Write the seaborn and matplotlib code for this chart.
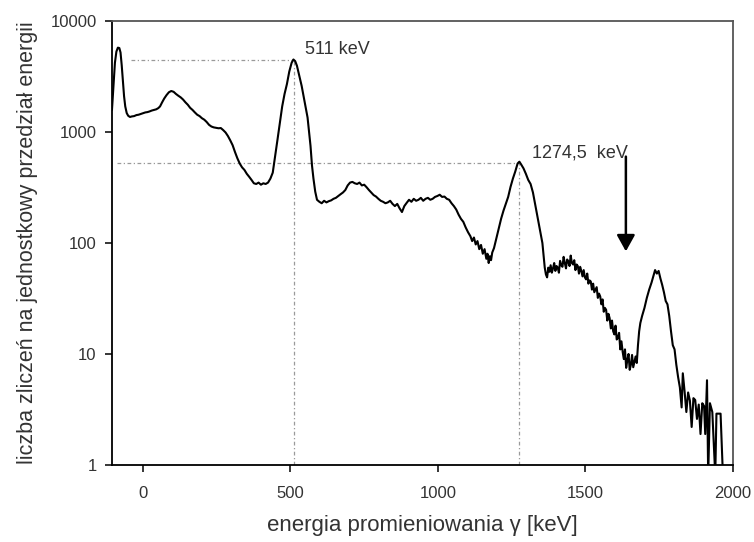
import numpy as np
import pandas as pd
import matplotlib
matplotlib.use("Agg")
import matplotlib.pyplot as plt
import seaborn as sns

# ---- data ----
energy_kev = [
    -105, -100, -95, -90, -85, -80, -76, -72, -68, -64, -60, -55, -50, -44, -38, -30, -22, -15, -8,
    0, 8, 15, 22, 30, 38, 45, 52, 58, 65, 72, 80, 88, 96, 104, 112, 120, 128, 136, 144, 152, 160,
    168, 176, 184, 192, 200, 208, 216, 224, 232, 240, 248, 256, 264, 272, 280, 288, 296, 304, 312,
    320, 328, 336, 344, 352, 360, 368, 376, 384, 392, 400, 408, 416, 424, 432, 440, 448, 456, 464,
    472, 480, 488, 496, 504, 510, 516, 522, 530, 538, 546, 552, 558, 563, 568, 573, 578, 584, 590,
    598, 606, 614, 622, 630, 638, 646, 654, 662, 670, 678, 686, 694, 702, 710, 718, 726, 734, 742,
    750, 758, 766, 774, 782, 790, 798, 806, 814, 822, 830, 838, 846, 854, 862, 870, 878, 886, 894,
    902, 910, 918, 926, 934, 942, 950, 958, 966, 974, 982, 990, 998, 1006, 1014, 1022, 1030, 1038,
    1046, 1054, 1062, 1070, 1078, 1086, 1094, 1102, 1110, 1116, 1122, 1128, 1134, 1140, 1146, 1152,
    1158, 1164, 1168, 1172, 1176, 1180, 1184, 1190, 1198, 1206, 1214, 1222, 1230, 1238, 1246, 1254,
    1262, 1270, 1276, 1282, 1290, 1298, 1306, 1314, 1322, 1330, 1338, 1346, 1354, 1358, 1362, 1366,
    1370, 1374, 1378, 1382, 1386, 1390, 1394, 1398, 1402, 1406, 1410, 1414, 1418, 1422, 1426, 1430,
    1434, 1438, 1442, 1446, 1450, 1454, 1458, 1462, 1466, 1470, 1474, 1478, 1482, 1486, 1490, 1494,
    1498, 1502, 1506, 1510, 1514, 1518, 1522, 1526, 1530, 1534, 1538, 1542, 1546, 1550, 1554, 1558,
    1562, 1566, 1570, 1574, 1578, 1582, 1586, 1590, 1594, 1598, 1602, 1606, 1610, 1614, 1618, 1622,
    1626, 1630, 1634, 1638, 1642, 1646, 1650, 1654, 1658, 1662, 1666, 1670, 1674, 1678, 1682, 1686,
    1692, 1700, 1708, 1716, 1724, 1730, 1736, 1742, 1748, 1754, 1760, 1766, 1772, 1778, 1784, 1790,
    1796, 1802, 1808, 1814, 1820, 1826, 1830, 1836, 1842, 1848, 1854, 1860, 1866, 1872, 1878, 1884,
    1890, 1896, 1902, 1906, 1912, 1916, 1922, 1930, 1940, 1944, 1952, 1958, 1966,
]
counts = [
    1580, 2600, 4200, 5300, 5750, 5700, 5200, 4000, 2900, 2100, 1700, 1480, 1400, 1365, 1380, 1390, 1420, 1430, 1450,
    1470, 1500, 1510, 1530, 1560, 1580, 1600, 1640, 1700, 1850, 2000, 2150, 2280, 2340, 2300, 2200, 2120, 2050, 1960, 1850, 1760, 1650,
    1580, 1500, 1430, 1390, 1330, 1290, 1230, 1160, 1120, 1100, 1090, 1080, 1085, 1040, 990, 920, 840, 760, 660,
    580, 520, 480, 455, 420, 395, 370, 345, 340, 350, 335, 345, 340, 350, 380, 430, 600, 850, 1200,
    1700, 2200, 2700, 3500, 4200, 4500, 4350, 3950, 3200, 2600, 2000, 1650, 1350, 1000, 750, 500, 380, 290, 245,
    235, 228, 240, 232, 238, 242, 250, 255, 265, 275, 285, 300, 330, 350, 355, 345, 340, 350, 330,
    335, 318, 300, 285, 270, 262, 250, 240, 235, 228, 232, 240, 225, 215, 225, 205, 190, 215, 230,
    245, 235, 250, 240, 245, 255, 240, 250, 255, 245, 250, 260, 265, 272, 260, 262, 250, 245,
    228, 215, 200, 180, 165, 155, 138, 125, 115, 104, 112, 97, 104, 88, 96, 80,
    88, 72, 80, 66, 76, 70, 82, 90, 110, 135, 165, 195, 225, 260, 320, 380,
    440, 520, 540, 510, 470, 420, 370, 340, 285, 220, 170, 130, 100, 78, 60, 52,
    49, 60, 55, 63, 54, 59, 66, 56, 62, 60, 54, 69, 63, 61, 75, 66,
    59, 71, 68, 62, 77, 66, 64, 70, 57, 64, 62, 53, 61, 56, 50, 57,
    49, 47, 53, 43, 46, 45, 38, 43, 36, 38, 40, 32, 35, 33, 28, 31,
    24, 26, 25, 20, 23, 21, 17, 20, 16, 15, 18, 13.5, 14, 15.5, 11, 13,
    10.5, 9, 11, 7.5, 8.8, 10, 7.2, 8, 9.8, 7.6, 8.5, 9.5, 8.3, 12, 16, 19,
    22, 26, 32, 38, 44, 50, 57, 53, 56, 48, 42, 36, 30, 28, 22, 16,
    12, 11, 8, 6.2, 5.0, 3.3, 6.7, 4.6, 3.0, 4.5, 3.8, 2.2, 4.0, 3.85, 2.6, 3.5,
    1.9, 3.6, 3.4, 1.9, 5.8, 0.8, 3.6, 3.0, 0.8, 2.9, 2.9, 2.9, 0.8,
]

peak_energies = [511, 1274.5]
peak_counts = [4450, 530]
peak_line_starts = [-40, -88]
peak_labels = ["511 keV", "1274,5  keV"]
label_pos_energy = [549, 1319]
label_pos_counts = [5500, 640]

arrow_energy = 1637
arrow_top = 600
arrow_tip = 84

x_ticks = [0, 500, 1000, 1500, 2000]
y_ticks = [1, 10, 100, 1000, 10000]
y_tick_labels = ["1", "10", "100", "1000", "10000"]

df = pd.DataFrame({"energia": energy_kev, "zliczenia": counts})

# ---- style ----
sns.set_style("ticks")
plt.rcParams["font.family"] = ["Liberation Sans", "DejaVu Sans"]

fig = plt.figure(figsize=(7.54, 5.42), dpi=100)
ax = fig.add_axes([0.1485, 0.1421, 0.9721 - 0.1485, 0.9613 - 0.1421])

sns.lineplot(data=df, x="energia", y="zliczenia", ax=ax, color="black",
             linewidth=1.5, zorder=3)

ax.set_yscale("log")
ax.set_xlim(-105, 2000)
ax.set_ylim(1, 10000)

# reference lines for peaks
ref_style = dict(color="#9a9a9a", linewidth=0.9, linestyle=(0, (3, 2, 1, 2)), zorder=1)
for e, c, s in zip(peak_energies, peak_counts, peak_line_starts):
    ax.plot([s, e], [c, c], **ref_style)
    ax.plot([e, e], [1, c], **ref_style)

for t, xe, yc in zip(peak_labels, label_pos_energy, label_pos_counts):
    ax.text(xe, yc, t, fontsize=13, color="#333333", ha="left", va="center")

ax.annotate("", xy=(arrow_energy, arrow_tip), xytext=(arrow_energy, arrow_top),
            arrowprops=dict(arrowstyle="-|>,head_length=0.9,head_width=0.5",
                            color="black", lw=1.8, mutation_scale=11,
                            shrinkA=0, shrinkB=0))

ax.set_xticks(x_ticks)
ax.set_yticks(y_ticks)
ax.set_yticklabels(y_tick_labels)
ax.minorticks_off()
ax.yaxis.set_minor_locator(matplotlib.ticker.NullLocator())
ax.tick_params(axis="both", labelsize=12, labelcolor="#333333", length=5, width=1.1,
               color="black", direction="out")
ax.tick_params(axis="x", pad=10)
ax.tick_params(axis="y", pad=6)

for side in ["left", "bottom"]:
    ax.spines[side].set_color("black")
    ax.spines[side].set_linewidth(1.3)
for side in ["top", "right"]:
    ax.spines[side].set_visible(True)
    ax.spines[side].set_color("#555555")
    ax.spines[side].set_linewidth(1.3)

ax.set_xlabel("energia promieniowania γ [keV]", fontsize=16, color="#333333", labelpad=10)
ax.set_ylabel("liczba zliczeń na jednostkowy przedział energii", fontsize=15.5,
              color="#333333", labelpad=9)

fig.savefig("out.png", dpi=100)
